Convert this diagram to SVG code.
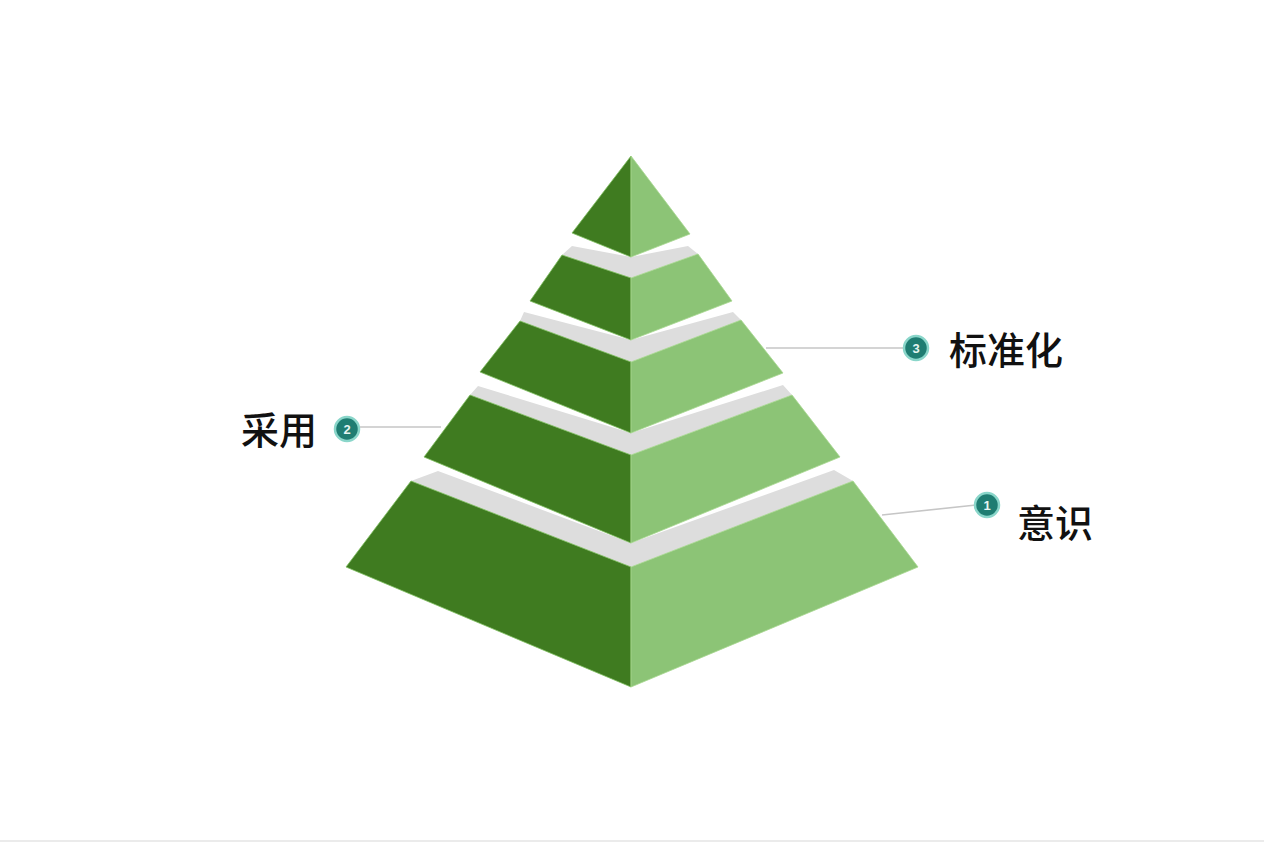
<svg xmlns="http://www.w3.org/2000/svg" width="1264" height="842" viewBox="0 0 1264 842">
  <style>
    .dark{fill:#3f7b20;stroke:#7fbf60;stroke-width:0.8;stroke-linejoin:round}
    .light{fill:#8cc476;stroke:#a8d890;stroke-width:0.8;stroke-linejoin:round}
    .band{fill:#dddddd}
    .conn{stroke:#c6c6c6;stroke-width:1.6;fill:none}
    .badge{fill:#1f7d72;stroke:#8ad6ca;stroke-width:2.5}
    .num{fill:#e6f4f1;font-family:"Liberation Sans",Arial,sans-serif;font-size:13px;font-weight:bold;text-anchor:middle}
    .lbl{fill:#111111;font-family:"Noto Sans CJK SC","Noto Sans",sans-serif;font-size:38px;font-weight:500}
  </style>
  <rect x="0" y="0" width="1264" height="842" fill="#ffffff"/>
  <rect x="0" y="840" width="1264" height="2" fill="#ebebeb"/>

  <g id="connectors">
    <line class="conn" x1="766" y1="348" x2="905" y2="348"/>
    <line class="conn" x1="360" y1="427" x2="441" y2="427"/>
    <line class="conn" x1="882" y1="515" x2="976" y2="505"/>
  </g>

  <g id="tier5">
    <polygon class="band" points="411,481 631,567 853,481 834,470 631,543 438,471"/>
    <polygon class="dark" points="411,481 346,567 631,687 631,567"/>
    <polygon class="light" points="631,567 631,687 918,567 853,481"/>
  </g>
  <g id="tier4">
    <polygon class="band" points="470,395 631,455 792,395 783,385 631,433 478,386"/>
    <polygon class="dark" points="470,395 424,457 631,543 631,455"/>
    <polygon class="light" points="631,455 631,543 840,457 792,395"/>
  </g>
  <g id="tier3">
    <polygon class="band" points="520,321 631,362 741,320 733,312 631,340 524,312"/>
    <polygon class="dark" points="520,321 480,372 631,433 631,362"/>
    <polygon class="light" points="631,362 631,433 783,373 741,320"/>
  </g>
  <g id="tier2">
    <polygon class="band" points="562,255 631,278 698,254 688,246 631,257 572,246"/>
    <polygon class="dark" points="562,255 530,301 631,340 631,278"/>
    <polygon class="light" points="631,278 631,340 732,301 698,254"/>
  </g>
  <g id="tier1">
    <polygon class="dark" points="631,156 572,233 631,257"/>
    <polygon class="light" points="631,156 631,257 690,234"/>
  </g>

  <g id="label3">
    <circle class="badge" cx="916" cy="348" r="12"/>
    <text class="num" x="916" y="352.5">3</text>
    <text class="lbl" x="949" y="364">标准化</text>
  </g>
  <g id="label2">
    <circle class="badge" cx="347" cy="429" r="12"/>
    <text class="num" x="347" y="433.5">2</text>
    <text class="lbl" x="241" y="444">采用</text>
  </g>
  <g id="label1">
    <circle class="badge" cx="987" cy="505" r="12"/>
    <text class="num" x="987" y="509.5">1</text>
    <text class="lbl" x="1017" y="537">意识</text>
  </g>
</svg>
